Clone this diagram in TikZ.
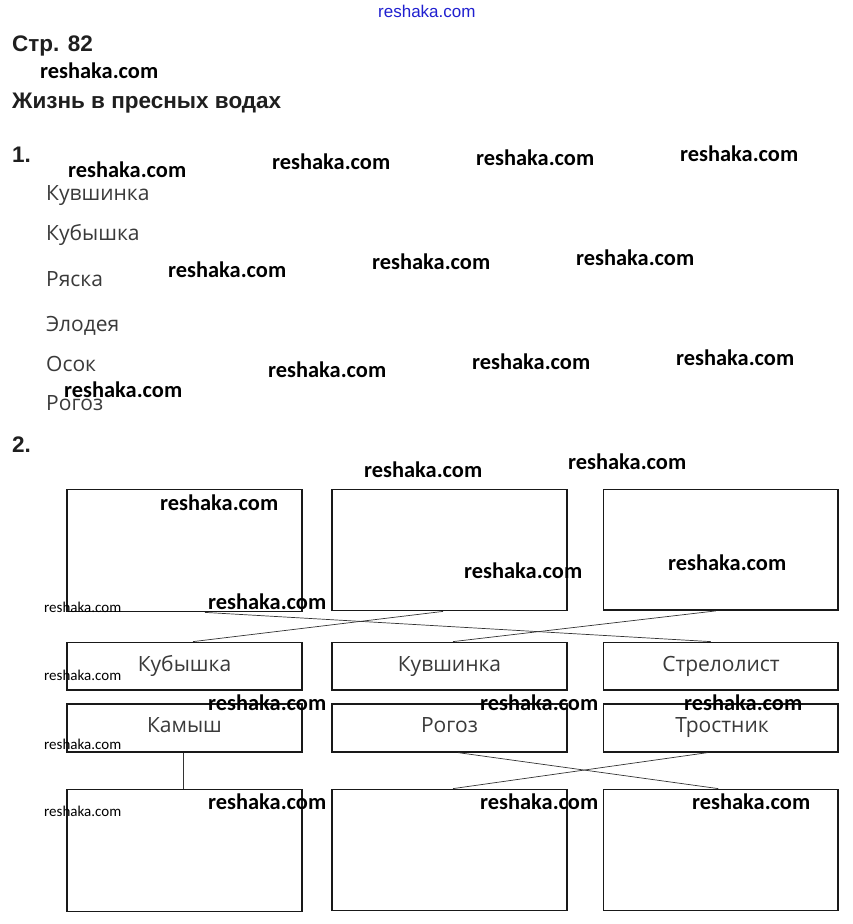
\documentclass[tikz,border=0pt]{standalone}
\usepackage{fontspec}
\setmainfont{Liberation Sans}
\newfontfamily\wmfont{Carlito}
\newfontfamily\itemfont{Open Sans}
\definecolor{txtgray}{HTML}{3A3A3A}
\definecolor{wmblue}{HTML}{2020D0}
\begin{document}
\begin{tikzpicture}[x=1pt,y=-1pt,
  box/.style={draw=black!90, line width=1.8pt, inner sep=0pt},
  lbl/.style={anchor=base, text=txtgray, font=\itemfont\fontsize{21}{22}\selectfont},
  item/.style={anchor=base west, text=txtgray, font=\itemfont\fontsize{21}{22}\selectfont, inner sep=0pt},
  head/.style={anchor=base west, font=\fontsize{22.5}{24}\bfseries\selectfont, text=black!88, inner sep=0pt},
  wm/.style={anchor=base west, inner sep=0pt, font=\wmfont\bfseries\fontsize{22.4}{24}\selectfont},
  wms/.style={anchor=base west, inner sep=0pt, font=\wmfont\fontsize{15}{16}\selectfont},
  link/.style={draw=black!80, line width=0.7pt}]
\useasboundingbox (0,0) rectangle (852,924);
\fill[white] (0,0) rectangle (852,924);
% headings
\node[anchor=base west, inner sep=0pt, text=wmblue, font=\fontsize{17}{18}\selectfont] (wtop) at (378,17) {reshaka.com};
\node[head] (str) at (12,51) {Стр. 82};
\node[head] (title) at (12,108) {Жизнь в пресных водах};
\node[head] (n1) at (12,162) {1.};
\node[head] (n2) at (12,452) {2.};
% list
\node[item] (i1) at (46,200) {Кувшинка};
\node[item] (i2) at (46,240) {Кубышка};
\node[item] (i3) at (46,286.5) {Ряска};
\node[item] (i4) at (46,331.5) {Элодея};
\node[item] (i5) at (46,371.5) {Осок};
\node[item] (i6) at (46,410) {Рогоз};
% boxes
\node[box, minimum width=235pt, minimum height=122pt] (tl) at (184.5,550.5) {};
\node[box, minimum width=235pt, minimum height=121pt] (tm) at (449.5,550) {};
\node[box, minimum width=234.5pt, minimum height=120.5pt] (tr) at (720.75,549.75) {};
\node[box, minimum width=235pt, minimum height=47.5pt] (l2) at (184.5,666.25) {};
\node[box, minimum width=235pt, minimum height=47.5pt] (m2) at (449.5,666.25) {};
\node[box, minimum width=234.5pt, minimum height=47.5pt] (r2) at (720.75,666.25) {};
\node[box, minimum width=235pt, minimum height=47.7pt] (l3) at (184.5,727.85) {};
\node[box, minimum width=235pt, minimum height=47.7pt] (m3) at (449.5,727.85) {};
\node[box, minimum width=234.5pt, minimum height=47.7pt] (r3) at (720.75,727.85) {};
\node[box, minimum width=235pt, minimum height=122pt] (bl) at (184.5,850.5) {};
\node[box, minimum width=235pt, minimum height=121pt] (bm) at (449.5,850) {};
\node[box, minimum width=234.5pt, minimum height=121pt] (br) at (720.75,850) {};
% labels
\node[lbl] (t1) at (184.5,671.5) {Кубышка};
\node[lbl] (t2) at (449.5,671.5) {Кувшинка};
\node[lbl] (t3) at (721,671.5) {Стрелолист};
\node[lbl] (t4) at (184.5,732.5) {Камыш};
\node[lbl] (t5) at (449.5,732.5) {Рогоз};
\node[lbl] (t6) at (722,732.5) {Тростник};
% connectors
\draw[link] ([xshift=20.5pt]tl.south) -- ([xshift=-10pt]r2.north);
\draw[link] ([xshift=8.5pt]l2.north) -- ([xshift=-6.5pt]tm.south);
\draw[link] ([xshift=3.5pt]m2.north) -- ([xshift=-5pt]tr.south);
\draw[link] ([xshift=-1pt]l3.south) -- ([xshift=-1pt]bl.north);
\draw[link] ([xshift=8.5pt]m3.south) -- ([xshift=-2.5pt]br.north);
\draw[link] ([xshift=-13pt]r3.south) -- ([xshift=3.5pt]bm.north);
% watermarks
\node[wm] (w1) at (40,78) {reshaka.com};
\node[wm] (w2) at (68,177) {reshaka.com};
\node[wm] (w3) at (272,169) {reshaka.com};
\node[wm] (w4) at (476,165) {reshaka.com};
\node[wm] (w5) at (680,161) {reshaka.com};
\node[wm] (w6) at (168,277) {reshaka.com};
\node[wm] (w7) at (372,269) {reshaka.com};
\node[wm] (w8) at (576,265) {reshaka.com};
\node[wm] (w9) at (64,397) {reshaka.com};
\node[wm] (w10) at (268,377) {reshaka.com};
\node[wm] (w11) at (472,369) {reshaka.com};
\node[wm] (w12) at (676,365) {reshaka.com};
\node[wm] (w13) at (364,477) {reshaka.com};
\node[wm] (w14) at (568,469) {reshaka.com};
\node[wm] (w15) at (160,510) {reshaka.com};
\node[wm] (w16) at (464,578) {reshaka.com};
\node[wm] (w17) at (668,570) {reshaka.com};
\node[wm] (w18) at (208,609) {reshaka.com};
\node[wm] (w19) at (208,710) {reshaka.com};
\node[wm] (w20) at (480,710) {reshaka.com};
\node[wm] (w21) at (684,710) {reshaka.com};
\node[wm] (w22) at (208,809) {reshaka.com};
\node[wm] (w23) at (480,809) {reshaka.com};
\node[wm] (w24) at (692,809) {reshaka.com};
\node[wms] (s1) at (44,612) {reshaka.com};
\node[wms] (s2) at (44,680) {reshaka.com};
\node[wms] (s3) at (44,749) {reshaka.com};
\node[wms] (s4) at (44,816) {reshaka.com};
\end{tikzpicture}
\end{document}
